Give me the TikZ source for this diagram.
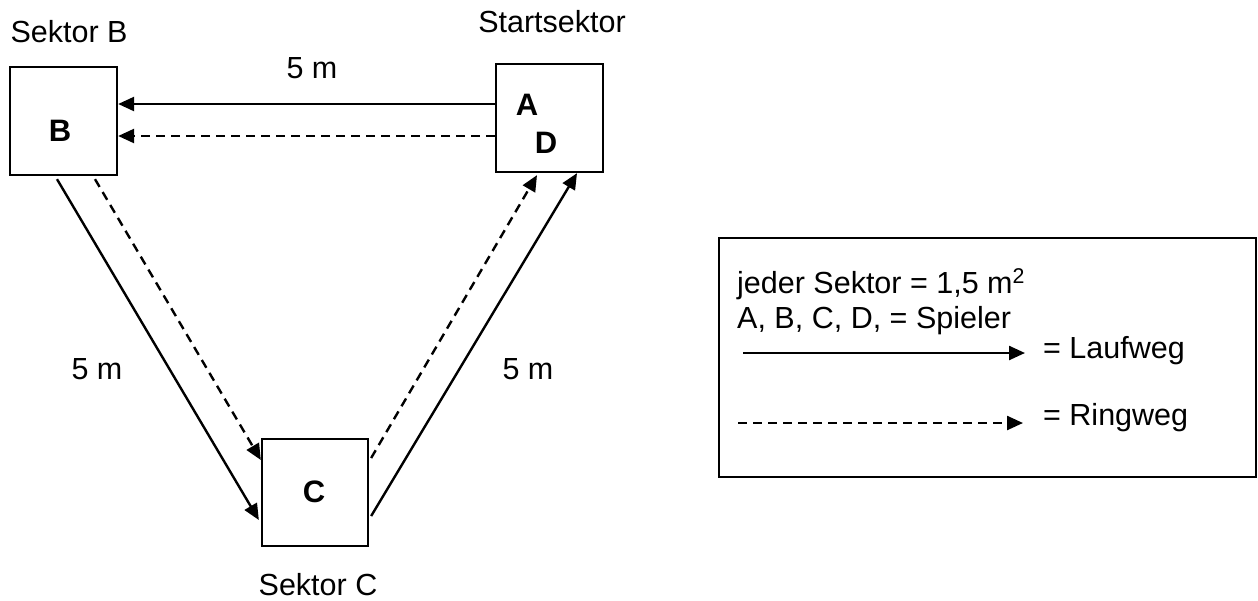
\documentclass[tikz,border=0pt]{standalone}
\usepackage{fontspec}
\setmainfont{Liberation Sans}
\usetikzlibrary{arrows.meta,calc}
\tikzset{
  sbox/.style={draw,line width=2.3pt,minimum width=107pt,minimum height=108pt,inner sep=0pt},
  lbl/.style={inner sep=0pt,anchor=base,font=\fontsize{30.5}{36}\selectfont},
  lbll/.style={inner sep=0pt,anchor=base west,font=\fontsize{30.5}{36}\selectfont},
  blbl/.style={inner sep=0pt,anchor=base,font=\fontsize{31}{36}\selectfont\bfseries},
  path/.style={line width=2.4pt,-{Triangle[length=16pt,width=14pt]}},
  ring/.style={path,dash pattern=on 9pt off 6pt},
}
\begin{document}
\begin{tikzpicture}[x=1pt,y=-1pt]
\useasboundingbox (0,0) rectangle (1258,600);
% boxes
\node[sbox] (B) at (63.5,121) {};
\node[sbox] (A) at (549.5,118) {};
\node[sbox,minimum width=106pt,minimum height=107pt] (C) at (315,492.5) {};
% letters
\node[blbl] (lB) at (60,141) {B};
\node[blbl] (lA) at (527,115) {A};
\node[blbl] (lD) at (546,153) {D};
\node[blbl] (lC) at (314,502) {C};
% sector labels
\node[lbl] (tB) at (69,42) {Sektor B};
\node[lbl] (tA) at (552,32) {Startsektor};
\node[lbl] (tC) at (318,595) {Sektor C};
\node[lbl] (d1) at (312,78) {5 m};
\node[lbl] (d2) at (97,379) {5 m};
\node[lbl] (d3) at (528,379) {5 m};
% connectors
\draw[path] ([yshift=14pt]A.west) -- ([yshift=17pt]B.east);
\draw[ring] ([yshift=-18pt]A.west) -- ([yshift=-15pt]B.east);
\draw[path] ([xshift=-6.5pt,yshift=-3pt]B.south) -- ([xshift=-2pt,yshift=-27.5pt]C.west);
\draw[ring] ([xshift=31.5pt,yshift=-3pt]B.south) -- ([yshift=32.5pt]C.west);
\draw[ring] ([xshift=2pt,yshift=34.5pt]C.east) -- ([xshift=-12.5pt,yshift=-2pt]A.south);
\draw[path] ([xshift=2pt,yshift=-23.5pt]C.east) -- ([xshift=27.5pt]A.south);
% legend
\node[draw,line width=2pt,minimum width=537pt,minimum height=239pt,inner sep=0pt] (L) at (987.5,357.5) {};
\node[lbll] (L1) at (737,293) {jeder Sektor = 1,5 m\textsuperscript{2}};
\node[lbll] (L2) at (737,328) {A, B, C, D, = Spieler};
\node[lbll] (L3) at (1043,358) {= Laufweg};
\node[lbll] (L4) at (1043,425) {= Ringweg};
\coordinate (s1) at (743,353);
\coordinate (e1) at (1025,353);
\coordinate (s2) at (738,423);
\coordinate (e2) at (1023,423);
\draw[path] (s1) -- (e1);
\draw[ring] (s2) -- (e2);
\end{tikzpicture}
\end{document}
